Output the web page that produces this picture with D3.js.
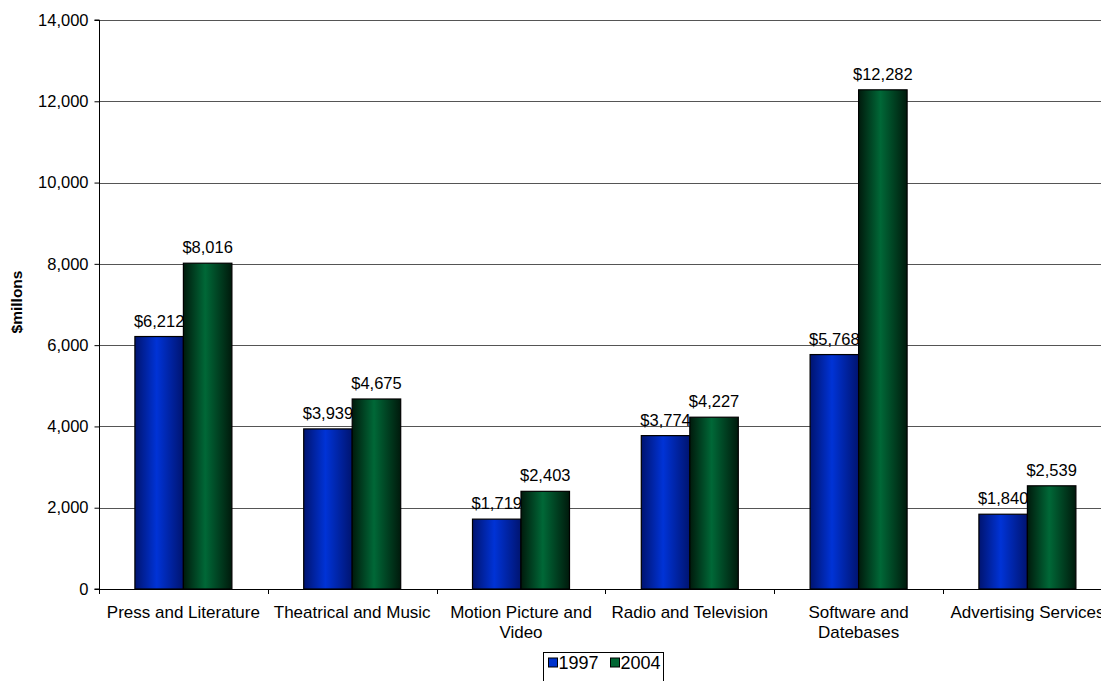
<!DOCTYPE html>
<html>
<head>
<meta charset="utf-8">
<script src="https://cdn.jsdelivr.net/npm/d3@7"></script>
<style>
  body { margin: 0; background: #fff; }
  svg { font-family: "Liberation Sans", Arial, sans-serif; }
</style>
</head>
<body>
<svg id="chart" width="1101" height="681"></svg>
<script>
var categories = ["Press and Literature", "Theatrical and Music", "Motion Picture and Video",
                  "Radio and Television", "Software and Datebases", "Advertising Services"];
var years = ["1997", "2004"];
var values1997 = [6212, 3939, 1719, 3774, 5768, 1840];
var values2004 = [8016, 4675, 2403, 4227, 12282, 2539];
var yTicks = [0, 2000, 4000, 6000, 8000, 10000, 12000, 14000];

var svg = d3.select("#chart");
var plotLeft = 99, plotTop = 20, plotBottom = 589, bandW = 168.8;

var x = d3.scaleBand().domain(categories).range([plotLeft, plotLeft + bandW * categories.length]).paddingInner(0).paddingOuter(0);
var y = d3.scaleLinear().domain([0, 14000]).range([plotBottom, plotTop]);

// gradients
var defs = svg.append("defs");
function grad(id, dark, mid) {
    var g = defs.append("linearGradient").attr("id", id).attr("x1", 0).attr("x2", 1).attr("y1", 0).attr("y2", 0);
    g.append("stop").attr("offset", "0%").attr("stop-color", dark);
    g.append("stop").attr("offset", "45%").attr("stop-color", mid);
    g.append("stop").attr("offset", "100%").attr("stop-color", dark);
}
grad("gBlue", "#001470", "#0033d6");
grad("gGreen", "#001a0c", "#006837");

// gridlines
svg.append("g").selectAll("line").data(yTicks.slice(1)).enter().append("line")
    .attr("x1", plotLeft).attr("x2", 1101)
    .attr("y1", function(d) { return Math.round(y(d)) + 0.5; })
    .attr("y2", function(d) { return Math.round(y(d)) + 0.5; })
    .attr("stroke", "#555").attr("stroke-width", 1);

// y axis
var yAxis = svg.append("g").attr("transform", "translate(" + (plotLeft + 0.5) + ",0)")
    .call(d3.axisLeft(y).tickValues(yTicks).tickSize(5).tickPadding(6).tickFormat(d3.format(",")));
yAxis.selectAll("text").attr("font-size", 16.5).attr("fill", "#000").attr("font-family", "Liberation Sans, Arial, sans-serif");
yAxis.selectAll("line,path").attr("stroke", "#000");
yAxis.select(".domain").attr("d", "M-5," + plotTop + "H0V" + plotBottom + "H-5").attr("fill", "none");

svg.append("text").attr("transform", "translate(22,302) rotate(-90)")
    .attr("text-anchor", "middle").attr("font-size", 15.5).attr("font-weight", "bold").text("$millons");

// bars, each series followed by its labels (so 2004 bars cover 1997 label tails)
var barW = 48.5;
var series = [{ key: "1997", vals: values1997, fill: "url(#gBlue)", off: -barW },
              { key: "2004", vals: values2004, fill: "url(#gGreen)", off: 0 }];
series.forEach(function(s) {
    var g = svg.append("g");
    g.selectAll("rect").data(categories).enter().append("rect")
        .attr("x", function(d) { return x(d) + x.bandwidth() / 2 + s.off; })
        .attr("y", function(d, i) { return y(s.vals[i]); })
        .attr("width", barW)
        .attr("height", function(d, i) { return plotBottom - y(s.vals[i]); })
        .attr("fill", s.fill).attr("stroke", "#000").attr("stroke-width", 1.2);
    g.selectAll("text").data(categories).enter().append("text")
        .attr("x", function(d) { return x(d) + x.bandwidth() / 2 + s.off + barW / 2; })
        .attr("y", function(d, i) { return y(s.vals[i]) - 10; })
        .attr("text-anchor", "middle").attr("font-size", 16.5)
        .text(function(d, i) { return "$" + d3.format(",")(s.vals[i]); });
});

// x axis
svg.append("line").attr("x1", plotLeft).attr("x2", 1101).attr("y1", plotBottom + 0.5).attr("y2", plotBottom + 0.5).attr("stroke", "#000");
svg.append("g").selectAll("line").data(d3.range(categories.length + 1)).enter().append("line")
    .attr("x1", function(i) { return Math.round(plotLeft + i * bandW) + 0.5; })
    .attr("x2", function(i) { return Math.round(plotLeft + i * bandW) + 0.5; })
    .attr("y1", plotBottom).attr("y2", plotBottom + 5).attr("stroke", "#000");

var xLabels = [["Press and Literature"], ["Theatrical and Music"], ["Motion Picture and", "Video"],
               ["Radio and Television"], ["Software and", "Datebases"], ["Advertising Services"]];
svg.append("g").selectAll("text").data(categories).enter().append("text")
    .attr("x", function(d) { return x(d) + x.bandwidth() / 2; })
    .attr("y", 618).attr("text-anchor", "middle").attr("font-size", 17)
    .each(function(d, i) {
        var t = d3.select(this);
        xLabels[i].forEach(function(line, j) {
            t.append("tspan").attr("x", x(d) + x.bandwidth() / 2).attr("dy", j === 0 ? 0 : 19.5).text(line);
        });
    });

// legend
var lg = svg.append("g").attr("transform", "translate(543.5,652.5)");
lg.append("rect").attr("width", 120).attr("height", 32).attr("fill", "#fff").attr("stroke", "#000");
years.forEach(function(yr, i) {
    var gx = 5 + i * 62;
    lg.append("rect").attr("x", gx).attr("y", 5.5).attr("width", 9).attr("height", 9)
        .attr("fill", i === 0 ? "#0033cc" : "#006633").attr("stroke", "#000");
    lg.append("text").attr("x", gx + 10).attr("y", 16).attr("font-size", 18).text(yr);
});
</script>
</body>
</html>
